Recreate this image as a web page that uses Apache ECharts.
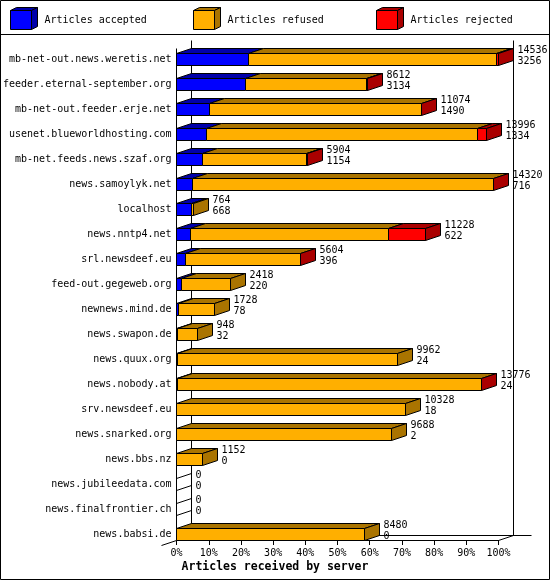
<!DOCTYPE html>
<html><head><meta charset="utf-8">
<script src="https://cdn.jsdelivr.net/npm/echarts@6/dist/echarts.min.js"></script>
<style>html,body{margin:0;padding:0;background:#fff}#c{width:550px;height:580px}</style>
</head><body><div id="c"></div>
<script>
const servers = [
  'mb-net-out.news.weretis.net','feeder.eternal-september.org','mb-net-out.feeder.erje.net',
  'usenet.blueworldhosting.com','mb-net.feeds.news.szaf.org','news.samoylyk.net','localhost',
  'news.nntp4.net','srl.newsdeef.eu','feed-out.gegeweb.org','newnews.mind.de','news.swapon.de',
  'news.quux.org','news.nobody.at','srv.newsdeef.eu','news.snarked.org','news.bbs.nz',
  'news.jubileedata.com','news.finalfrontier.ch','news.babsi.de'
];
const offered  = [14536, 8612, 11074, 13996, 5904, 14320, 764, 11228, 5604, 2418, 1728, 948, 9962, 13776, 10328, 9688, 1152, 0, 0, 8480];
const accepted = [3256, 3134, 1490, 1334, 1154, 716, 668, 622, 396, 220, 78, 32, 24, 24, 18, 2, 0, 0, 0, 0];
const rejected = [76, 18, 20, 420, 16, 14, 0, 1650, 10, 0, 0, 0, 0, 12, 0, 0, 0, 0, 0, 0];
const refused  = offered.map((o, i) => o - accepted[i] - rejected[i]);
const percentTicks = [0, 10, 20, 30, 40, 50, 60, 70, 80, 90, 100];
const legendNames = ['Articles accepted', 'Articles refused', 'Articles rejected'];
const axisTitle = 'Articles received by server';

const FRONT = ['#0000FF', '#FFAF00', '#FF0000'];
const DARK  = ['#0000AA', '#AA7400', '#AA0000'];
const FONT = "'DejaVu Sans Mono', monospace";
const DX = 15, DY = -5, HALF = 6;
const maxOffered = Math.max.apply(null, offered);
const pct = v => v / maxOffered * 100;
const snap = v => Math.round(v - 0.5) + 0.5;

const barData = servers.map((s, i) => [i, accepted[i], refused[i], rejected[i], offered[i], pct(offered[i])]);

function renderBar(params, api) {
  const i = api.value(0);
  const vals = [api.value(1), api.value(2), api.value(3)];
  const total = api.value(4);
  const c = api.coord([0, i]);
  const cy = c[1];
  const y0 = snap(cy - HALF), y1 = snap(cy + HALF);
  const x0 = snap(c[0]);
  const children = [];
  let cum = 0, last = -1;
  const segs = [];
  for (let k = 0; k < 3; k++) {
    if (vals[k] > 0) {
      const xs = snap(api.coord([pct(cum), i])[0]);
      cum += vals[k];
      const xe = snap(api.coord([pct(cum), i])[0]);
      last = k;
      if (xe - xs >= 1) segs.push({k, xs, xe});
    }
  }
  const xEnd = total > 0 ? snap(api.coord([pct(total), i])[0]) : x0;
  const stroke = {stroke: '#000', lineWidth: 1};
  segs.forEach(s => {
    children.push({type: 'polygon', shape: {points: [[s.xs, y0], [s.xe, y0], [s.xe + DX, y0 + DY], [s.xs + DX, y0 + DY]]},
      style: Object.assign({fill: DARK[s.k]}, stroke)});
  });
  children.push({type: 'polygon', shape: {points: [[xEnd, y0], [xEnd + DX, y0 + DY], [xEnd + DX, y1 + DY], [xEnd, y1]]},
    style: Object.assign({fill: last >= 0 ? DARK[last] : 'none'}, stroke)});
  segs.forEach(s => {
    children.push({type: 'rect', shape: {x: s.xs, y: y0, width: s.xe - s.xs, height: y1 - y0},
      style: Object.assign({fill: FRONT[s.k]}, stroke)});
  });
  const lx = xEnd + DX + 4;
  children.push({type: 'text', style: {text: String(total), x: lx, y: cy - 9, fill: '#000', font: '10px ' + FONT, verticalAlign: 'middle', align: 'left'}});
  children.push({type: 'text', style: {text: String(api.value(1)), x: lx, y: cy + 1.5, fill: '#000', font: '10px ' + FONT, verticalAlign: 'middle', align: 'left'}});
  return {type: 'group', children};
}

function renderFrame(params, api) {
  const n = servers.length;
  const c0 = api.coord([0, 0]);
  const xL = snap(c0[0]);
  const xR = snap(api.coord([100, 0])[0]);
  const yBot = snap(api.coord([0, n - 1])[1] + HALF);
  const yTopFront = snap(c0[1] - HALF + DY);
  const yTopBack = yTopFront - 8;
  const ls = {stroke: '#000', lineWidth: 1};
  const line = (a, b, cc, d) => ({type: 'line', shape: {x1: a, y1: b, x2: cc, y2: d}, style: ls});
  return {type: 'group', children: [
    line(xL + DX, yTopBack, xL + DX, yBot + DY),
    line(xR + DX, yTopBack, xR + DX, yBot + DY),
    line(xL + DX, yBot + DY, xR + DX + 18, yBot + DY),
    line(xL - DX, yBot - DY, xL + DX, yBot + DY),
    line(xR, yBot, xR + DX, yBot + DY),
    line(xL, yTopFront, xL, yBot),
    line(xL, yBot, xR, yBot)
  ]};
}

function cube(x, y, k) {
  const w = 21, h = 19, dx = 6, dy = -3;
  const st = {stroke: '#000', lineWidth: 1};
  return [
    {type: 'polygon', shape: {points: [[x, y], [x + w, y], [x + w + dx, y + dy], [x + dx, y + dy]]}, style: Object.assign({fill: DARK[k]}, st)},
    {type: 'polygon', shape: {points: [[x + w, y], [x + w + dx, y + dy], [x + w + dx, y + h + dy], [x + w, y + h]]}, style: Object.assign({fill: DARK[k]}, st)},
    {type: 'rect', shape: {x: x, y: y, width: w, height: h}, style: Object.assign({fill: FRONT[k]}, st)}
  ];
}

const legendGraphics = [];
legendNames.forEach((name, k) => {
  const bx = 10.5 + 183 * k;
  cube(bx, 10.5, k).forEach(g => legendGraphics.push(g));
  legendGraphics.push({type: 'text', style: {text: name, x: bx + 34, y: 20.5, fill: '#000', font: '10px ' + FONT, verticalAlign: 'middle'}});
});

const chart = echarts.init(document.getElementById('c'));
chart.setOption({
  animation: false,
  backgroundColor: '#fff',
  title: {text: axisTitle, left: 'center', top: 561, padding: 0,
    textStyle: {fontFamily: FONT, fontSize: 11.5, fontWeight: 'bold', color: '#000'}},
  grid: {left: 176.5, right: 51.5, top: 47, bottom: 33, containLabel: false},
  xAxis: {type: 'value', min: 0, max: 100, interval: 10, offset: -7,
    axisLine: {show: false},
    axisTick: {show: true, length: 5, lineStyle: {color: '#000', width: 1}},
    axisLabel: {formatter: v => percentTicks.indexOf(v) >= 0 ? v + '%' : '', margin: 8, fontFamily: FONT, fontSize: 10, color: '#000'},
    splitLine: {show: false}},
  yAxis: {type: 'category', data: servers, inverse: true,
    axisLine: {show: false}, axisTick: {show: false}, splitLine: {show: false},
    axisLabel: {margin: 5, fontFamily: FONT, fontSize: 10, color: '#000'}},
  graphic: [
    {type: 'rect', shape: {x: 0.5, y: 0.5, width: 549, height: 579}, style: {fill: 'none', stroke: '#000', lineWidth: 1}},
    {type: 'line', shape: {x1: 0, y1: 34.5, x2: 550, y2: 34.5}, style: {stroke: '#000', lineWidth: 1}},
    {type: 'group', children: legendGraphics}
  ],
  series: [
    {type: 'custom', name: 'frame', renderItem: renderFrame, data: [[0, 0]], encode: {x: 0, y: 1}, z: 1, silent: true},
    {type: 'custom', name: 'articles', renderItem: renderBar, data: barData, encode: {y: 0, x: 5}, z: 2}
  ]
});
</script></body></html>
